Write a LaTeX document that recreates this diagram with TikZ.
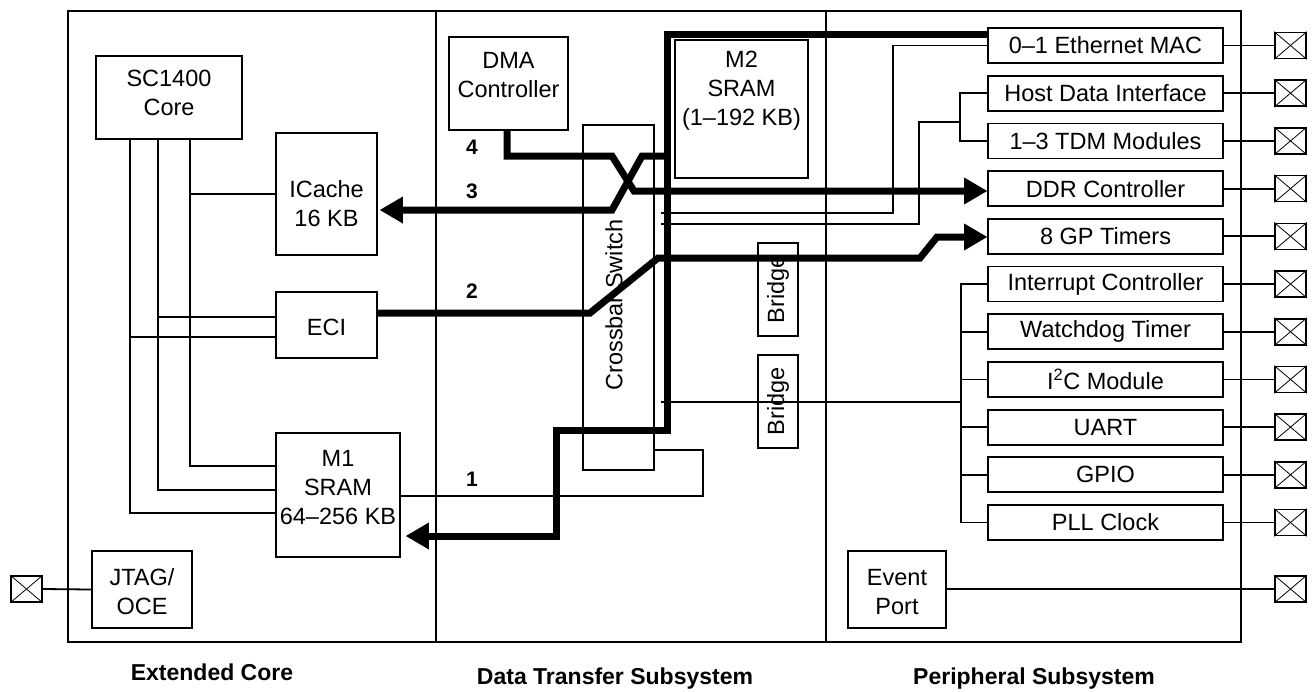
\documentclass[tikz,border=0pt]{standalone}
\usepackage{fontspec}
\setmainfont{Liberation Sans}
\usetikzlibrary{arrows.meta}
\begin{document}
\begin{tikzpicture}[x=1pt,y=-1pt,
  thin/.style={line width=1.8pt},
  bus/.style={line width=7pt},
  blk/.style={draw, line width=1.8pt, inner sep=0pt},
  txt/.style={inner sep=0pt, font=\fontsize{23.5}{29}\selectfont, align=center},
  per/.style={draw, line width=1.8pt, inner sep=0pt, minimum width=235pt, minimum height=35pt, font=\fontsize{23.5}{28}\selectfont},
  pinbox/.style={draw, line width=1.6pt, minimum width=31pt, minimum height=26pt, inner sep=0pt},
  num/.style={font=\fontsize{21}{24}\selectfont\bfseries, inner sep=0pt},
  ttl/.style={font=\fontsize{23}{26}\selectfont\bfseries, inner sep=0pt, anchor=base},
  tip/.style={-{Triangle[length=23pt,width=27pt,line width=0pt]}}
]
\useasboundingbox (0,0) rectangle (1314,691);

% frame and subsystem dividers
\draw[line width=2pt] (68,11) rectangle (1241,642);
\draw[line width=1.8pt] (436,11) -- (436,642);
\draw[line width=1.8pt] (826,11) -- (826,642);

% extended core blocks
\node[blk, minimum width=146pt, minimum height=83pt] (core) at (169,97.5) {};
\node[txt] (coret) at (169,93) {SC1400\\Core};
\node[blk, minimum width=101pt, minimum height=122pt] (icache) at (326.5,194) {};
\node[txt] (icachet) at (326.5,204) {ICache\\16 KB};
\node[blk, minimum width=101pt, minimum height=66pt] (eci) at (326.5,325) {};
\node[txt] (ecit) at (326.5,327) {ECI};
\node[blk, minimum width=124pt, minimum height=124pt] (m1) at (338,495) {};
\node[txt] (m1t) at (338,488) {M1\\SRAM\\64--256 KB};
\node[blk, minimum width=100pt, minimum height=77pt] (jtag) at (142,589.5) {};
\node[txt] (jtagt) at (142,592) {JTAG/\\OCE};
\node[pinbox] (pinL) at (26.5,589) {};
\draw[line width=0.8pt] (pinL.north west) -- (pinL.south east) (pinL.north east) -- (pinL.south west);

% data transfer blocks
\node[blk, minimum width=119pt, minimum height=93pt] (dma) at (508.5,83.5) {};
\node[txt] (dmat) at (508.5,75) {DMA\\Controller};
\node[blk, minimum width=71pt, minimum height=345pt] (xbar) at (618.5,297.5) {};
\node[txt, rotate=90] (xbart) at (614,305) {Crossbar Switch};
\node[blk, minimum width=133pt, minimum height=138pt] (m2) at (741.5,109) {};
\node[txt] (m2t) at (741.5,91) {M2\\SRAM\\(1--192 KB)};
\node[blk, minimum width=40pt, minimum height=93pt] (br1) at (778,289.5) {};
\node[txt, rotate=90] (br1t) at (778,289.5) {Bridge};
\node[blk, minimum width=40pt, minimum height=93pt] (br2) at (778,401.5) {};
\node[txt, rotate=90] (br2t) at (778,401.5) {Bridge};

% peripheral blocks
\node[per] (eth) at (1105.5,45.5) {0--1 Ethernet MAC};
\node[per] (hdi) at (1105.5,93.2) {Host Data Interface};
\node[per] (tdm) at (1105.5,140.9) {1--3 TDM Modules};
\node[per] (ddr) at (1105.5,188.6) {DDR Controller};
\node[per] (gpt) at (1105.5,236.3) {8 GP Timers};
\node[per] (irq) at (1105.5,284) {Interrupt Controller};
\node[per] (wdt) at (1105.5,331.7) {Watchdog Timer};
\node[per] (iic) at (1105.5,379.4) {I\textsuperscript{2}C Module};
\node[per] (uart) at (1105.5,427.1) {UART};
\node[per] (gpio) at (1105.5,474.8) {GPIO};
\node[per] (pll) at (1105.5,522.5) {PLL Clock};
\node[blk, minimum width=98pt, minimum height=77pt] (evt) at (897,589.5) {};
\node[txt] (evtt) at (897,592) {Event\\Port};

\foreach \n/\y in {eth/45.5,hdi/93.2,tdm/140.9,ddr/188.6,gpt/236.3,irq/284,wdt/331.7,iic/379.4,uart/427.1,gpio/474.8,pll/522.5}{
  \node[pinbox] (p\n) at (1290.5,\y) {};
  \draw[line width=0.8pt] (p\n.north west) -- (p\n.south east) (p\n.north east) -- (p\n.south west);
  \draw[thin] (\n.east) -- (p\n.west);
}
\node[pinbox] (pevt) at (1290.5,589) {};
\draw[line width=0.8pt] (pevt.north west) -- (pevt.south east) (pevt.north east) -- (pevt.south west);
\draw[thin] (evt.east |- pevt.west) -- (pevt.west);

% core buses
\draw[thin] (core.south -| 190,0) -- (190,466) -- (m1.west |- 0,466);
\draw[thin] (190,194) -- (icache.west);
\draw[thin] (core.south -| 158,0) -- (158,490) -- (m1.west |- 0,490);
\draw[thin] (158,317) -- (eci.west |- 0,317);
\draw[thin] (core.south -| 130,0) -- (130,513) -- (m1.west |- 0,513);
\draw[thin] (130,337) -- (eci.west |- 0,337);
\draw[thin] (jtag.west) -- (pinL.east);
\draw[thin] (m1.east |- 0,496) -- (703,496) -- (703,450) -- (xbar.east |- 0,450);

% peripheral thin buses
\draw[thin] (eth.west) -- (893,45.5) -- (893,213) -- (661,213);
\draw[thin] (hdi.west) -- (960,93.2) -- (960,140.9) -- (tdm.west);
\draw[thin] (960,122) -- (919,122) -- (919,224) -- (661,224);
\draw[thin] (irq.west) -- (961,284) -- (961,522.5) -- (pll.west);
\foreach \n in {wdt,iic,uart,gpio}{ \draw[thin] (961,0 |- \n.west) -- (\n.west); }
\draw[thin] (661,402) -- (961,402);

% thick transfer paths
\draw[bus, tip] (eth.west |- 0,34) -- (667,34) -- (667,430) -- (556,430) -- (556,536) -- ([xshift=5pt]m1.east |- 0,536);
\draw[bus, tip] (dma.south -| 507,0) -- (507,156) -- (612,156) -- (634,191) -- (ddr.west |- 0,191);
\draw[bus, tip] (667,156) -- (642,156) -- (612,210) -- ([xshift=2pt]icache.east |- 0,210);
\draw[bus, tip] (eci.east |- 0,313) -- (590,313) -- (658,258) -- (920,258) -- (937,237) -- (gpt.west |- 0,237);

% path numbers
\node[num] (n4) at (472,147) {4};
\node[num] (n3) at (472,191) {3};
\node[num] (n2) at (472,291) {2};
\node[num] (n1) at (472,479) {1};

% subsystem titles
\node[ttl] (t1) at (212,680) {Extended Core};
\node[ttl] (t2) at (615,684) {Data Transfer Subsystem};
\node[ttl] (t3) at (1034,684) {Peripheral Subsystem};
\end{tikzpicture}
\end{document}
